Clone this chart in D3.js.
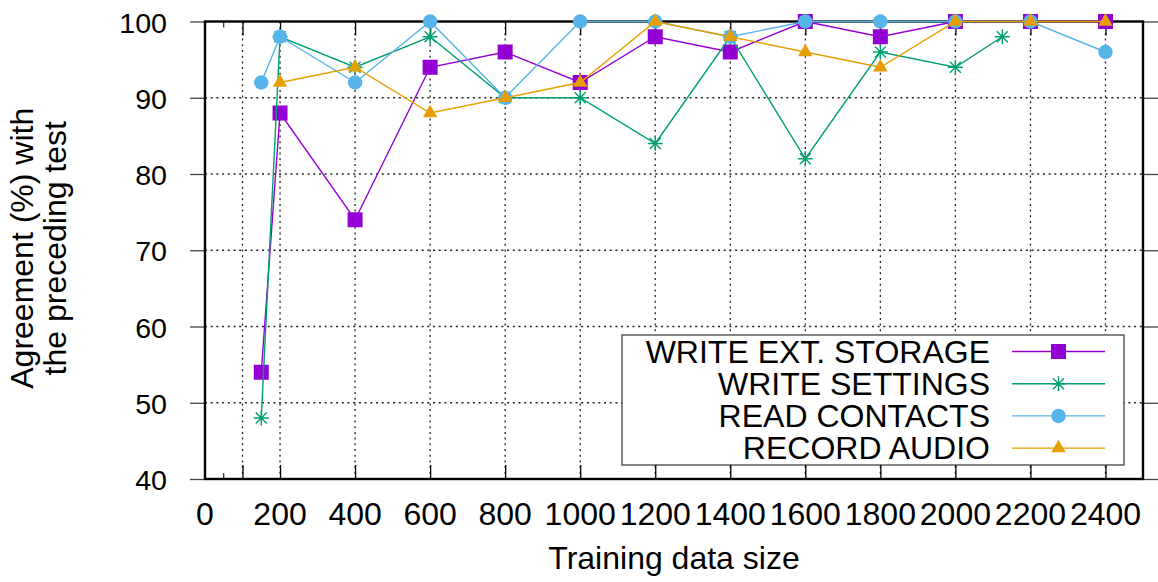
<!DOCTYPE html>
<html lang="en">
<head>
    <meta charset="UTF-8">
    <script src="https://d3js.org/d3.v7.min.js"></script>
    <title>Agreement vs training data size</title>
    <style>
        body { margin: 0; background: #fff; }
        text { font-family: "Liberation Sans", Arial, sans-serif; fill: #000; }
    </style>
</head>
<body>
    <svg id="chart" width="1158" height="582"></svg>
    <script>
        // x values (training data size)
        const sizes = [150, 200, 400, 600, 800, 1000, 1200, 1400, 1600, 1800, 2000, 2200, 2400];
        const settingsSizes = [150, 200, 400, 600, 800, 1000, 1200, 1400, 1600, 1800, 2000, 2125];
        const audioSizes = [200, 400, 600, 800, 1000, 1200, 1400, 1600, 1800, 2000, 2200, 2400];

        // agreement (%) with the preceding test
        const writeExtStorage = [54, 88, 74, 94, 96, 92, 98, 96, 100, 98, 100, 100, 100];
        const writeSettings = [48, 98, 94, 98, 90, 90, 84, 98, 82, 96, 94, 98];
        const readContacts = [92, 98, 92, 100, 90, 100, 100, 98, 100, 100, 100, 100, 96];
        const recordAudio = [92, 94, 88, 90, 92, 100, 98, 96, 94, 100, 100, 100];

        const seriesNames = ["WRITE EXT. STORAGE", "WRITE SETTINGS", "READ CONTACTS", "RECORD AUDIO"];
        const xTicks = [100, 200, 400, 600, 800, 1000, 1200, 1400, 1600, 1800, 2000, 2200, 2400];
        const xLabels = [0, 200, 400, 600, 800, 1000, 1200, 1400, 1600, 1800, 2000, 2200, 2400];
        const yTicks = [40, 50, 60, 70, 80, 90, 100];

        const series = [
            { name: seriesNames[0], xs: sizes, ys: writeExtStorage, color: "#9400d3", shape: "square" },
            { name: seriesNames[1], xs: settingsSizes, ys: writeSettings, color: "#009e73", shape: "star" },
            { name: seriesNames[2], xs: sizes, ys: readContacts, color: "#56b4e9", shape: "circle" },
            { name: seriesNames[3], xs: audioSizes, ys: recordAudio, color: "#e69f00", shape: "triangle" }
        ];

        const svg = d3.select("#chart");
        const margin = { top: 21.5, right: 15, bottom: 103, left: 205 };
        const width = +svg.attr("width") - margin.left - margin.right;
        const height = +svg.attr("height") - margin.top - margin.bottom;

        const x = d3.scaleLinear().domain([0, 2500]).range([0, width]);
        const y = d3.scaleLinear().domain([40, 100]).range([height, 0]);

        const g = svg.append("g")
            .attr("transform", "translate(" + margin.left + "," + margin.top + ")");

        // grid
        g.append("g").selectAll("line")
            .data(xTicks)
            .enter().append("line")
            .attr("x1", d => x(d)).attr("x2", d => x(d))
            .attr("y1", 0).attr("y2", height)
            .attr("stroke", "#222").attr("stroke-width", 1.3)
            .attr("stroke-dasharray", "2,3.7");

        g.append("g").selectAll("line")
            .data(yTicks.slice(1, -1))
            .enter().append("line")
            .attr("x1", 0).attr("x2", width)
            .attr("y1", d => y(d)).attr("y2", d => y(d))
            .attr("stroke", "#222").attr("stroke-width", 1.3)
            .attr("stroke-dasharray", "2,3.7");

        // legend (opaque, sits over the grid)
        const legend = g.append("g");
        legend.append("rect")
            .attr("x", 417).attr("y", 313.5)
            .attr("width", 502).attr("height", 130)
            .attr("fill", "#fff").attr("stroke", "#444").attr("stroke-width", 1.3);

        // x ticks, inward, bottom and top
        const xAxisBottom = g.append("g")
            .attr("transform", "translate(0," + height + ")")
            .call(d3.axisBottom(x).tickValues(xTicks).tickSize(-14).tickFormat(""));
        xAxisBottom.append("line")
            .attr("x1", x(50)).attr("x2", x(50)).attr("y1", 0).attr("y2", -6)
            .attr("stroke", "#000");
        const xAxisTop = g.append("g")
            .call(d3.axisTop(x).tickValues(xTicks).tickSize(-14).tickFormat(""));
        xAxisTop.append("line")
            .attr("x1", x(50)).attr("x2", x(50)).attr("y1", 0).attr("y2", 6)
            .attr("stroke", "#000");

        // y ticks, outward, left and right
        const yAxisLeft = g.append("g")
            .call(d3.axisLeft(y).tickValues(yTicks).tickSize(15).tickFormat(""));
        const yAxisRight = g.append("g")
            .attr("transform", "translate(" + width + ",0)")
            .call(d3.axisRight(y).tickValues(yTicks).tickSize(15).tickFormat(""));

        [xAxisBottom, xAxisTop, yAxisLeft, yAxisRight].forEach(a => {
            a.select(".domain").remove();
            a.selectAll(".tick line").attr("stroke", "#000").attr("stroke-width", 1.3);
        });
        yAxisLeft.selectAll(".tick line").attr("stroke", "#444");
        yAxisRight.selectAll(".tick line").attr("stroke", "#444");

        // border
        g.append("rect")
            .attr("x", 0).attr("y", 0)
            .attr("width", width).attr("height", height)
            .attr("fill", "none").attr("stroke", "#000").attr("stroke-width", 2.4);

        // tick labels
        g.append("g").selectAll("text")
            .data(yTicks)
            .enter().append("text")
            .attr("transform", d => "translate(-38," + (y(d) + 11) + ") scale(1.06,1)")
            .attr("text-anchor", "end")
            .attr("font-size", 27)
            .text(d => d);

        g.append("g").selectAll("text")
            .data(xLabels)
            .enter().append("text")
            .attr("x", d => x(d))
            .attr("y", height + 46)
            .attr("text-anchor", "middle")
            .attr("font-size", 32)
            .text(d => d);

        // axis titles
        g.append("text")
            .attr("x", width / 2)
            .attr("y", height + 90)
            .attr("text-anchor", "middle")
            .attr("font-size", 32)
            .text("Training data size");

        const yTitle = g.append("g")
            .attr("transform", "translate(" + (-margin.left) + "," + (height / 2 - 2) + ") rotate(-90)");
        yTitle.append("text")
            .attr("y", 33)
            .attr("text-anchor", "middle")
            .attr("font-size", 32)
            .text("Agreement (%) with");
        yTitle.append("text")
            .attr("y", 66)
            .attr("text-anchor", "middle")
            .attr("font-size", 32)
            .text("the preceding test");

        // marker shapes
        const starPath = "M-7.5,0L7.5,0M0,-7.5L0,7.5M-5.5,-5.5L5.5,5.5M-5.5,5.5L5.5,-5.5";
        function marker(shape) {
            if (shape === "square") return d3.symbol(d3.symbolSquare, 225)();
            if (shape === "circle") return d3.symbol(d3.symbolCircle, 165)();
            if (shape === "triangle") return d3.symbol(d3.symbolTriangle, 90)();
            return starPath;
        }
        function drawMarker(sel, s) {
            sel.append("path")
                .attr("d", marker(s.shape))
                .attr("fill", s.shape === "star" ? "none" : s.color)
                .attr("stroke", s.shape === "star" ? s.color : "none")
                .attr("stroke-width", 1.4);
        }

        const line = d3.line().x(d => x(d[0])).y(d => y(d[1]));

        series.forEach(s => {
            const pts = s.xs.map((v, i) => [v, s.ys[i]]);
            g.append("path")
                .datum(pts)
                .attr("d", line)
                .attr("fill", "none")
                .attr("stroke", s.color)
                .attr("stroke-width", 1.4);
            g.append("g").selectAll("g")
                .data(pts)
                .enter().append("g")
                .attr("transform", d => "translate(" + x(d[0]) + "," + y(d[1]) + ")")
                .each(function() { drawMarker(d3.select(this), s); });
        });

        // legend entries
        series.forEach((s, i) => {
            const ly = 330 + i * 32.2;
            legend.append("text")
                .attr("x", 785).attr("y", ly + 11)
                .attr("text-anchor", "end")
                .attr("font-size", 32)
                .text(s.name);
            legend.append("line")
                .attr("x1", 807).attr("x2", 900)
                .attr("y1", ly).attr("y2", ly)
                .attr("stroke", s.color).attr("stroke-width", 1.4);
            const m = legend.append("g").attr("transform", "translate(853.5," + ly + ")");
            drawMarker(m, s);
        });
    </script>
</body>
</html>
